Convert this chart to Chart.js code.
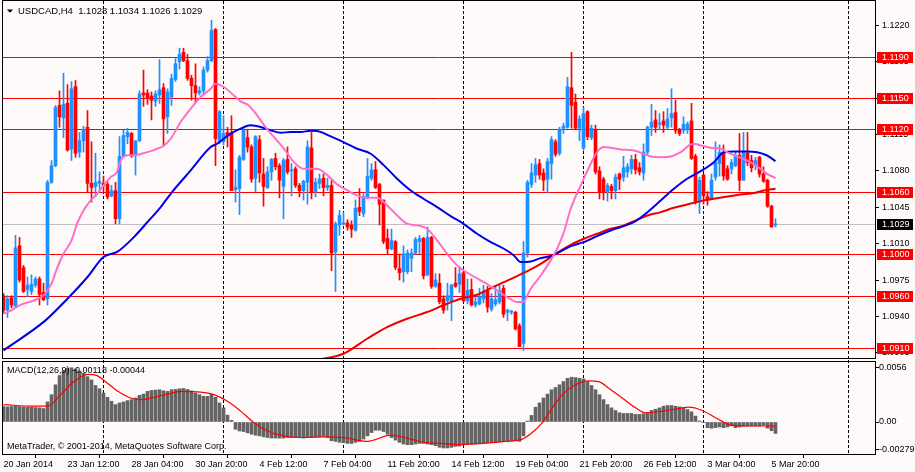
<!DOCTYPE html>
<html>
<head>
<meta charset="utf-8">
<script src="https://cdn.jsdelivr.net/npm/chart.js@4.4.1/dist/chart.umd.min.js"></script>
<style>
  html, body { margin: 0; padding: 0; background: #fffafa; }
  #wrap { position: relative; width: 915px; height: 472px; overflow: hidden; }
  canvas { position: absolute; left: 0; }
  #price { top: 0; }
  #macd { top: 360px; }
</style>
</head>
<body>
<div id="wrap">
  <canvas id="price" width="915" height="360"></canvas>
  <canvas id="macd" width="915" height="112"></canvas>
</div>
<script>
// USDCAD H4
const FONT = '"Liberation Sans", Arial, sans-serif';
const BG = '#fffafa';
const BULL = '#1e90ff';
const BEAR = '#ff0000';

const tickLabels = ['20 Jan 2014', '23 Jan 12:00', '28 Jan 04:00', '30 Jan 20:00', '4 Feb 12:00',
  '7 Feb 04:00', '11 Feb 20:00', '14 Feb 12:00', '19 Feb 04:00', '21 Feb 20:00',
  '26 Feb 12:00', '3 Mar 04:00', '5 Mar 20:00'];

const opens = [1.0960,1.0946,1.0958,1.0950,1.1008,1.0987,1.0966,1.0964,1.0970,1.0976,
1.0963,1.0957,1.1069,1.1085,1.1143,1.1131,1.1145,1.1101,1.1161,1.1098,
1.1109,1.1122,1.1068,1.1065,1.1068,1.1068,1.1067,1.1056,1.1061,1.1034,
1.1094,1.1113,1.1116,1.1095,1.1109,1.1155,1.1155,1.1152,1.1147,1.1153,
1.1160,1.1132,1.1151,1.1168,1.1185,1.1194,1.1186,1.1169,1.1162,1.1155,
1.1157,1.1177,1.1186,1.1216,1.1108,1.1108,1.1117,1.1116,1.1062,1.1063,
1.1091,1.1112,1.1103,1.1073,1.1110,1.1077,1.1064,1.1079,1.1092,1.1085,
1.1065,1.1091,1.1080,1.1082,1.1066,1.1061,1.1069,1.1102,1.1060,1.1068,
1.1073,1.1064,1.1066,1.1002,1.1028,1.1029,1.1030,1.1028,1.1023,1.1045,
1.1039,1.1055,1.1073,1.1081,1.1067,1.1052,1.1015,1.1005,1.1012,1.0986,
1.0983,1.0983,1.0996,1.1001,1.1012,1.1015,1.0980,1.1016,1.0969,1.0972,
1.0957,1.0955,1.0954,1.0972,1.0971,1.0982,1.0955,1.0966,1.0951,1.0952,
1.0957,1.0965,1.0947,1.0952,1.0954,1.0967,1.0944,1.0944,1.0944,1.0931,
1.0914,1.1001,1.1067,1.1076,1.1087,1.1078,1.1072,1.1087,1.1108,1.1097,
1.1121,1.1122,1.1160,1.1146,1.1121,1.1102,1.1137,1.1112,1.1120,1.1080,
1.1072,1.1060,1.1065,1.1061,1.1077,1.1074,1.1079,1.1082,1.1091,1.1083,
1.1078,1.1098,1.1122,1.1129,1.1125,1.1128,1.1122,1.1131,1.1136,1.1119,
1.1119,1.1120,1.1128,1.1094,1.1050,1.1076,1.1055,1.1053,1.1074,1.1087,
1.1098,1.1082,1.1082,1.1085,1.1095,1.1071,1.1097,1.1090,1.1085,1.1093,
1.1077,1.1071,1.1046,1.1028];

const highs = [1.0962,1.0960,1.0960,1.1018,1.1016,1.0989,1.0978,1.0980,1.0978,1.0978,
1.0972,1.1071,1.1090,1.1143,1.1157,1.1174,1.1163,1.1166,1.1167,1.1117,
1.1123,1.1138,1.1108,1.1097,1.1079,1.1075,1.1069,1.1066,1.1069,1.1113,
1.1119,1.1121,1.1117,1.1109,1.1157,1.1177,1.1158,1.1156,1.1157,1.1187,
1.1164,1.1159,1.1173,1.1188,1.1198,1.1198,1.1192,1.1172,1.1183,1.1161,
1.1180,1.1190,1.1225,1.1217,1.1138,1.1133,1.1122,1.1133,1.1081,1.1095,
1.1121,1.1119,1.1105,1.1114,1.1114,1.1092,1.1084,1.1092,1.1097,1.1087,
1.1092,1.1103,1.1087,1.1084,1.1068,1.1071,1.1109,1.1117,1.1073,1.1077,
1.1077,1.1073,1.1071,1.1031,1.1042,1.1040,1.1033,1.1032,1.1052,1.1063,
1.1058,1.1092,1.1087,1.1089,1.1068,1.1052,1.1024,1.1024,1.1013,1.1000,
1.1008,1.1004,1.1005,1.1016,1.1018,1.1016,1.1026,1.1017,1.0981,1.0981,
1.0960,1.0972,1.0971,1.0987,1.0988,1.0983,1.0976,1.0976,1.0960,1.0967,
1.0970,1.0969,1.0962,1.0969,1.0970,1.0970,1.0947,1.0946,1.0945,1.0933,
1.1012,1.1071,1.1087,1.1092,1.1091,1.1082,1.1092,1.1113,1.1110,1.1122,
1.1126,1.1170,1.1194,1.1154,1.1133,1.1141,1.1138,1.1124,1.1124,1.1084,
1.1074,1.1068,1.1067,1.1077,1.1078,1.1094,1.1087,1.1095,1.1096,1.1088,
1.1106,1.1123,1.1144,1.1138,1.1135,1.1137,1.1140,1.1159,1.1148,1.1121,
1.1132,1.1127,1.1145,1.1096,1.1074,1.1077,1.1060,1.1077,1.1108,1.1105,
1.1105,1.1085,1.1091,1.1098,1.1116,1.1117,1.1117,1.1095,1.1093,1.1094,
1.1084,1.1072,1.1047,1.1034];

const lows = [1.0943,1.0939,1.0948,1.0949,1.0973,1.0963,1.0959,1.0961,1.0968,1.0951,
1.0955,1.0951,1.1068,1.1084,1.1122,1.1112,1.1099,1.1090,1.1093,1.1093,
1.1098,1.1060,1.1050,1.1055,1.1060,1.1060,1.1053,1.1055,1.1029,1.1029,
1.1093,1.1106,1.1093,1.1076,1.1108,1.1142,1.1144,1.1129,1.1142,1.1145,
1.1105,1.1116,1.1143,1.1166,1.1178,1.1185,1.1167,1.1148,1.1146,1.1153,
1.1154,1.1175,1.1185,1.1085,1.1106,1.1105,1.1103,1.1061,1.1050,1.1038,
1.1090,1.1098,1.1069,1.1060,1.1069,1.1046,1.1063,1.1071,1.1081,1.1054,
1.1034,1.1077,1.1056,1.1064,1.1055,1.1052,1.1048,1.1053,1.1055,1.1063,
1.1056,1.1061,1.0984,1.0964,1.1018,1.1028,1.1023,1.1016,1.1022,1.1037,
1.1036,1.1053,1.1071,1.1063,1.1028,1.1010,1.1000,1.1004,1.0985,1.0975,
1.0973,1.0981,1.0983,1.1000,1.1000,1.0976,1.0979,1.0967,1.0968,1.0952,
1.0943,1.0946,1.0936,1.0968,1.0963,1.0954,1.0952,1.0950,1.0949,1.0951,
1.0953,1.0944,1.0945,1.0950,1.0952,1.0939,1.0936,1.0942,1.0927,1.0911,
1.0907,1.0997,1.1064,1.1069,1.1072,1.1061,1.1059,1.1072,1.1094,1.1095,
1.1116,1.1121,1.1121,1.1120,1.1109,1.1100,1.1110,1.1110,1.1077,1.1053,
1.1052,1.1051,1.1053,1.1053,1.1062,1.1070,1.1074,1.1077,1.1077,1.1076,
1.1071,1.1095,1.1114,1.1117,1.1120,1.1117,1.1120,1.1122,1.1116,1.1114,
1.1116,1.1116,1.1091,1.1048,1.1039,1.1048,1.1047,1.1052,1.1071,1.1075,
1.1071,1.1071,1.1077,1.1084,1.1061,1.1071,1.1085,1.1079,1.1081,1.1074,
1.1069,1.1045,1.1026,1.1026];

const closes = [1.0946,1.0957,1.0951,1.1006,1.0975,1.0964,1.0970,1.0971,1.0976,1.0961,
1.0956,1.1069,1.1085,1.1141,1.1132,1.1144,1.1100,1.1159,1.1097,1.1109,
1.1120,1.1068,1.1064,1.1069,1.1070,1.1066,1.1055,1.1061,1.1034,1.1094,
1.1114,1.1117,1.1095,1.1109,1.1154,1.1153,1.1150,1.1148,1.1154,1.1158,
1.1130,1.1156,1.1169,1.1183,1.1192,1.1186,1.1169,1.1162,1.1155,1.1157,
1.1177,1.1186,1.1215,1.1111,1.1137,1.1116,1.1114,1.1061,1.1064,1.1093,
1.1119,1.1103,1.1072,1.1113,1.1078,1.1065,1.1079,1.1091,1.1084,1.1071,
1.1090,1.1079,1.1081,1.1066,1.1061,1.1070,1.1103,1.1060,1.1069,1.1072,
1.1064,1.1066,1.1001,1.1029,1.1037,1.1030,1.1026,1.1024,1.1044,1.1041,
1.1055,1.1075,1.1081,1.1064,1.1048,1.1012,1.1005,1.1013,1.0987,1.0982,
1.1000,1.1001,1.1001,1.1014,1.1015,1.0979,1.1016,1.0969,1.0975,1.0954,
1.0946,1.0960,1.0970,1.0969,1.0981,1.0955,1.0965,1.0951,1.0954,1.0959,
1.0963,1.0949,1.0957,1.0956,1.0965,1.0942,1.0946,1.0945,1.0928,1.0911,
1.1001,1.1069,1.1078,1.1086,1.1076,1.1071,1.1089,1.1110,1.1096,1.1120,
1.1123,1.1161,1.1143,1.1121,1.1130,1.1135,1.1113,1.1121,1.1079,1.1060,
1.1059,1.1066,1.1061,1.1074,1.1072,1.1083,1.1084,1.1091,1.1081,1.1079,
1.1098,1.1122,1.1127,1.1122,1.1126,1.1124,1.1130,1.1135,1.1119,1.1116,
1.1125,1.1125,1.1092,1.1050,1.1071,1.1056,1.1053,1.1071,1.1088,1.1098,
1.1075,1.1072,1.1088,1.1095,1.1071,1.1098,1.1088,1.1083,1.1090,1.1077,
1.1070,1.1046,1.1026,1.1029];

// moving averages, sampled along the curves (bar position, price)
const pinkAt = [0,2,4,8,10,12,13.5,15,17,18.4,20,21.8,23.4,25,26.8,28.4,29.3,31,32.6,35,
36.8,38.4,40,41.8,44.3,46.8,49.3,51.8,53,55.1,57.6,59.3,61.3,63.4,65.5,68,70,72.6,75,78.4,
81,83.4,86,88.4,90.9,93.4,95.9,98.4,100.9,103.4,105.9,108.4,110.9,113.4,116.8,120.1,123.4,125.9,128.4,129.8,
131.8,134.3,136.8,138.4,140.1,141.8,144.3,146.8,148.4,150.1,151.8,154.3,157.6,160.1,161.8,164.3,166.8,169.3,171.4,172.6,
174.3,176.8,179.3,180.9,183.4,185.9,188.4,190.9,193];
const pinkVal = [1.09426,1.09458,1.09506,1.0956,1.09602,1.09715,1.09875,1.10003,1.10131,1.10292,
1.1042,1.10516,1.1058,1.1066,1.1074,1.1079,1.109,1.1095,1.1095,1.1097,
1.1099,1.11013,1.11039,1.11109,1.1127,1.11398,1.1151,1.1159,1.11639,1.11607,
1.11526,1.11469,1.1143,1.11334,1.11222,1.11109,1.1102,1.10885,1.10821,1.10821,
1.10757,1.1067,1.10612,1.10564,1.10542,1.10542,1.10468,1.10372,1.10292,1.10276,
1.10244,1.10131,1.10003,1.09891,1.09801,1.0973,1.0965,1.09586,1.09538,1.09538,
1.09666,1.09794,1.09939,1.10051,1.10211,1.10436,1.1066,1.10869,1.10981,1.11029,
1.11022,1.11006,1.10997,1.10964,1.10939,1.10932,1.10939,1.1098,1.11045,1.1106,
1.11045,1.11022,1.11013,1.1098,1.10939,1.109,1.10843,1.10772,1.1073];

const blueAt = [0,10.5,16,21,25,28.4,32.6,36,39.3,41.8,46.8,51.8,53.4,56.8,59.3,61.8,64.3,66.8,69.3,71.8,
74.3,76.8,78.4,81.8,85,88.4,91.8,95.1,98.4,101.8,105,108.4,111.8,115,118.4,121.8,125.1,127.6,129.3,131.8,
134.3,136.8,139.3,141.8,145.1,148.4,151.8,154.3,157.6,161,164.3,167.6,170.9,174.3,177.6,180.1,182.6,185.9,188.4,190.9,193];
const blueVal = [1.09073,1.09362,1.0957,1.09779,1.09971,1.1002,1.10163,1.10308,1.10452,1.1058,
1.10805,1.11029,1.11061,1.11158,1.11206,1.11238,1.11222,1.1119,1.11167,1.11174,
1.11174,1.11186,1.11183,1.11132,1.11077,1.11013,1.10965,1.10853,1.10725,1.10612,
1.10532,1.10452,1.10365,1.10291,1.10195,1.10115,1.10051,1.09987,1.09923,1.09929,
1.09961,1.09981,1.10025,1.10076,1.10115,1.10173,1.10227,1.10259,1.10307,1.10403,
1.10515,1.10628,1.10724,1.10798,1.10884,1.1098,1.10987,1.10987,1.1098,1.10948,1.10894];

const redAt = [79,85,90.9,95.9,100.9,105.9,110.9,114.3,118.4,121.8,125.1,128.4,131.8,135,138.4,141.8,
145.1,148.4,151.8,154.3,157.6,161,164.3,167.6,170.9,174.3,177.6,181,184.3,187.6,190.1,193];
const redVal = [1.08985,1.09041,1.09185,1.09297,1.09378,1.09442,1.09522,1.0957,1.09608,1.09672,
1.0973,1.09788,1.09852,1.09923,1.10012,1.10089,1.10147,1.10195,1.10243,1.10265,
1.10317,1.10371,1.10403,1.10445,1.10477,1.10509,1.10532,1.10554,1.10573,1.10586,1.10612,1.10628];

// MACD(12,26,9) histogram, one value per bar
const macdHist = [0.0016,0.00156,0.0016,0.00163,0.0016,0.00156,0.00153,0.00153,0.00149,0.00146,0.00139,
0.00207,0.00282,0.00384,0.00479,0.00526,0.00553,0.0056,0.00546,0.00526,0.00502,0.00468,0.00434,0.00377,0.00343,
0.00299,0.00255,0.00214,0.0018,0.00197,0.00207,0.00221,0.00231,0.00248,0.00275,0.00288,0.00316,0.00326,0.00329,
0.00333,0.00322,0.00316,0.00333,0.00336,0.00343,0.00346,0.00336,0.00322,0.00299,0.00282,0.00265,0.00265,0.00288,
0.00255,0.00197,0.00146,0.00071,0.00017,
-0.00075,-0.00092,-0.00098,-0.00112,-0.00126,-0.00136,-0.00143,-0.00153,-0.0016,-0.00166,
-0.00166,-0.00166,-0.00166,-0.0016,-0.0016,-0.0016,-0.0016,-0.00166,-0.0016,-0.0016,
-0.00153,-0.00153,-0.00146,-0.0016,-0.00193,-0.002,-0.0021,-0.00214,-0.00221,-0.00221,
-0.0021,-0.002,-0.00176,-0.00143,-0.00109,-0.00085,-0.00085,-0.00098,-0.00126,-0.0016,
-0.00187,-0.0021,-0.00227,-0.00234,-0.00234,-0.00227,-0.00221,-0.00221,-0.00227,-0.00234,
-0.00244,-0.00261,-0.00268,-0.00268,-0.00261,
-0.00252,-0.00248,-0.00234,-0.00234,-0.00227,-0.00227,-0.00221,-0.00221,-0.00214,-0.0021,
-0.0021,-0.00204,-0.002,-0.002,-0.00193,-0.00187,-0.002,-0.00143,0.0001,0.00068,
0.00153,0.00197,0.00248,0.00288,0.00333,0.00356,0.00384,0.00417,0.00451,0.00462,
0.00458,0.00451,0.00445,0.00417,0.00377,0.00333,0.00282,0.00231,0.0018,0.00146,
0.00119,0.00095,0.00088,0.00088,0.00088,0.00078,0.00078,0.00085,0.00095,0.00119,
0.00132,0.00146,0.00163,0.0017,0.0017,0.00163,0.00156,0.00146,0.00129,0.00105,
0.00061,0.0001,-0.00007,-0.00058,-0.00064,-0.00058,-0.00051,-0.00058,-0.00051,-0.00041,
-0.00058,-0.00051,-0.00044,-0.00041,-0.00041,-0.00041,-0.00041,-0.00034,-0.00064,-0.0009,
-0.00118];

const signalAt = [0,7.6,11,14.3,17.6,21,23.4,26,28.4,31.8,34.3,37.6,41,44.3,49.3,52.6,56,59.3,62.6,66,
70,74.3,80,85,91,96.8,101.8,105,109.3,113.4,119.7,125.5,129.7,132.2,134.7,137.2,139.7,143,146.3,148.8,
151.3,154.7,158,160.5,164.7,169.7,171.3,174.7,178,181.3,185.5,191.3,193];
const signalVal = [0.0018,0.00163,0.00163,0.00282,0.00417,0.00492,0.00478,0.004,0.00322,0.00248,
0.00231,0.00255,0.00288,0.00316,0.00309,0.00282,0.00214,0.00112,-0.00007,-0.00092,
-0.00143,-0.0016,-0.00153,-0.0016,-0.002,-0.00136,-0.00176,-0.0021,-0.0022,-0.00234,
-0.0022,-0.002,-0.00176,-0.00109,-0.00007,0.00146,0.00282,0.00384,0.00424,0.00417,
0.00349,0.00248,0.00146,0.00095,0.00112,0.00146,0.00153,0.00119,0.00044,-0.00024,
-0.00041,-0.00041,-0.00044];

const levels = [1.1190, 1.1150, 1.1120, 1.1060, 1.1000, 1.0960, 1.0910];
const lastPrice = 1.1029;
const priceTicks = [1.0905, 1.0940, 1.0975, 1.1010, 1.1045, 1.1080, 1.1115, 1.1150, 1.1185, 1.1220];
const macdTicks = [-0.00279, 0, 0.0056];
const macdTickText = ['-0.00279', '0.00', '0.0056'];
const gridBars = [25, 55, 85, 115, 145, 175, 211.25];

const headerText = 'USDCAD,H4  1.1028 1.1034 1.1026 1.1029';
const macdText = 'MACD(12,26,9) -0.00118 -0.00044';
const copyText = 'MetaTrader, \u00a9 2001-2014, MetaQuotes Software Corp.';

const X_MIN = -0.375, X_MAX = 217.875;

// candles as floating bars: wick = low..high, body = open..close
const bars = opens.map((_, i) => i);
const candleColors = bars.map(i => closes[i] >= opens[i] ? BULL : BEAR);
const wicks = bars.map(i => ({ x: i, y: [lows[i], highs[i]] }));
const bodies = bars.map(i => {
  let lo = Math.min(opens[i], closes[i]);
  let hi = Math.max(opens[i], closes[i]);
  if (hi - lo < 0.0001) { const m = (hi + lo) / 2; lo = m - 0.00005; hi = m + 0.00005; }
  return { x: i, y: [lo, hi] };
});
const pts = (xs, ys) => xs.map((x, i) => ({ x: x, y: ys[i] }));

function font(size) { return size + 'px ' + FONT; }

// keep the axes from pushing the plot area inwards for half-label room
function fixWidth(s) { s.width = 40; s.paddingTop = 0; s.paddingBottom = 0; }
function fixHeight(s) { s.height = 18; s.paddingLeft = 0; s.paddingRight = 0; }

const mtPanel = {
  id: 'mtPanel',
  beforeDraw(chart) {
    const ctx = chart.ctx;
    ctx.save();
    ctx.fillStyle = BG;
    ctx.fillRect(0, 0, chart.width, chart.height);
    ctx.restore();
  },
  beforeDatasetsDraw(chart, args, opts) {
    const { ctx, chartArea: a, scales } = chart;
    ctx.save();
    ctx.lineWidth = 1;
    ctx.strokeStyle = '#000';
    ctx.setLineDash([3, 2]);
    gridBars.forEach(b => {
      const x = Math.floor(scales.x.getPixelForValue(b)) + 0.5;
      ctx.beginPath();
      ctx.moveTo(x, a.top - 2);
      ctx.lineTo(x, a.bottom);
      ctx.stroke();
    });
    ctx.setLineDash([]);
    if (opts.main) {
      const yl = Math.round(scales.y.getPixelForValue(lastPrice)) + 0.5;
      ctx.strokeStyle = '#c0c0c0';
      ctx.beginPath(); ctx.moveTo(a.left, yl); ctx.lineTo(a.right, yl); ctx.stroke();
      ctx.strokeStyle = '#ff0000';
      levels.forEach(v => {
        const y = Math.round(scales.y.getPixelForValue(v)) + 0.5;
        ctx.beginPath(); ctx.moveTo(a.left, y); ctx.lineTo(a.right, y); ctx.stroke();
      });
    }
    ctx.restore();
  },
  afterDraw(chart, args, opts) {
    const { ctx, chartArea: a, scales } = chart;
    ctx.save();
    ctx.strokeStyle = '#000';
    ctx.lineWidth = 1;
    const l = Math.floor(a.left) + 0.5, r = Math.floor(a.right) + 0.5;
    const t = opts.main ? 0.5 : Math.floor(a.top) - 0.5;
    const b = Math.floor(a.bottom) + 0.5;
    ctx.strokeRect(l, t, r - l, b - t);

    ctx.fillStyle = '#000';
    ctx.textBaseline = 'middle';
    ctx.textAlign = 'left';
    if (opts.main) {
      // window header
      ctx.beginPath();
      ctx.moveTo(7, 9.5); ctx.lineTo(13, 9.5); ctx.lineTo(10, 12.8);
      ctx.closePath(); ctx.fill();
      ctx.font = font(9.5);
      ctx.fillText(headerText, 18, 11);

      // horizontal line price tags
      ctx.font = font(9);
      const tag = (v, color) => {
        const y = Math.round(scales.y.getPixelForValue(v));
        ctx.fillStyle = color;
        ctx.fillRect(877, y - 5, 36, 11);
        ctx.fillStyle = '#fff';
        ctx.fillText(v.toFixed(4), 882, y + 0.5);
      };
      levels.forEach(v => tag(v, '#ff0000'));
      tag(lastPrice, '#000');
    } else {
      ctx.font = font(9);
      ctx.fillText(macdText, 7, a.top + 9);
      ctx.fillText(copyText, 7, a.top + 85);
    }
    ctx.restore();
  }
};

const common = {
  responsive: false,
  animation: false,
  devicePixelRatio: 1,
  events: [],
};

new Chart(document.getElementById('price'), {
  type: 'bar',
  data: {
    datasets: [
      { type: 'line', data: pts(pinkAt, pinkVal), borderColor: '#ff6ec7', borderWidth: 2,
        pointRadius: 0, cubicInterpolationMode: 'monotone', order: 0 },
      { type: 'line', data: pts(blueAt, blueVal), borderColor: '#0000e6', borderWidth: 2,
        pointRadius: 0, cubicInterpolationMode: 'monotone', order: 0 },
      { type: 'line', data: pts(redAt, redVal), borderColor: '#ee0000', borderWidth: 2,
        pointRadius: 0, cubicInterpolationMode: 'monotone', order: 0 },
      { type: 'bar', data: bodies, backgroundColor: candleColors, barThickness: 3,
        grouped: false, borderWidth: 0, order: 1 },
      { type: 'bar', data: wicks, backgroundColor: candleColors, barThickness: 1,
        grouped: false, borderWidth: 0, order: 2 }
    ]
  },
  options: Object.assign({}, common, {
    layout: { padding: { left: 2, top: 3, right: 0, bottom: 2 } },
    plugins: { legend: { display: false }, tooltip: { enabled: false }, mtPanel: { main: true } },
    scales: {
      x: { type: 'linear', display: false, min: X_MIN, max: X_MAX, offset: false },
      y: {
        position: 'right', min: 1.0900, max: 1.12415,
        afterBuildTicks: s => { s.ticks = priceTicks.map(v => ({ value: v })); },
        afterFit: fixWidth,
        ticks: { callback: v => v.toFixed(4), font: { family: FONT, size: 9 }, color: '#000',
          padding: 3, autoSkip: false },
        grid: { drawOnChartArea: false, drawTicks: true, tickLength: 4, color: '#000' },
        border: { display: false }
      }
    }
  }),
  plugins: [mtPanel]
});

new Chart(document.getElementById('macd'), {
  type: 'bar',
  data: {
    datasets: [
      { type: 'line', data: pts(signalAt, signalVal), borderColor: '#ff0000', borderWidth: 1.2,
        pointRadius: 0, cubicInterpolationMode: 'monotone', order: 0 },
      { type: 'bar', data: macdHist.map((v, i) => ({ x: i, y: v })), backgroundColor: '#646464',
        barThickness: 3, borderWidth: 0, order: 1 }
    ]
  },
  options: Object.assign({}, common, {
    layout: { padding: { left: 2, top: 2, right: 0, bottom: 0 } },
    plugins: { legend: { display: false }, tooltip: { enabled: false }, mtPanel: { main: false } },
    scales: {
      x: {
        type: 'linear', min: X_MIN, max: X_MAX, offset: false,
        afterBuildTicks: s => { s.ticks = tickLabels.map((t, k) => ({ value: k * 16 })); },
        afterFit: fixHeight,
        ticks: { callback: (v, i) => tickLabels[i], align: 'start', autoSkip: false, maxRotation: 0,
          font: { family: FONT, size: 9 }, color: '#000', padding: 1 },
        grid: { drawOnChartArea: false, drawTicks: true, tickLength: 4, color: '#000' },
        border: { display: false }
      },
      y: {
        position: 'right', min: -0.0033, max: 0.00619,
        afterBuildTicks: s => { s.ticks = macdTicks.map(v => ({ value: v })); },
        afterFit: fixWidth,
        ticks: { callback: (v, i) => macdTickText[i], font: { family: FONT, size: 9 }, color: '#000',
          padding: 0, autoSkip: false },
        grid: { drawOnChartArea: false, drawTicks: true, tickLength: 4, color: '#000' },
        border: { display: false }
      }
    }
  }),
  plugins: [mtPanel]
});
</script>
</body>
</html>
